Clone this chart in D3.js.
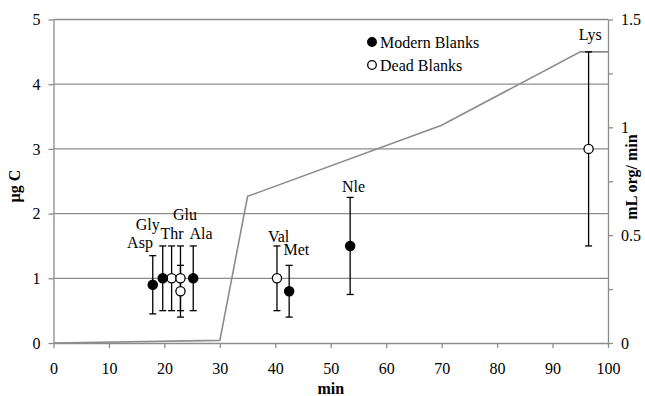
<!DOCTYPE html>
<html lang="en-US">
<head>
<meta charset="UTF-8">
<title>Blanks vs gradient</title>
<script src="https://d3js.org/d3.v7.min.js"></script>
<style>
  body { margin: 0; background: #fff; }
  text { font-family: "Liberation Serif", "Times New Roman", serif; fill: #000; }
  .grid line { stroke: #8c8c8c; stroke-width: 1.3px; }
  .axis path, .axis line { stroke: #8c8c8c; stroke-width: 1.3px; }
  .axis text { font-size: 16px; }
  .flow { fill: none; stroke: #8c8c8c; stroke-width: 1.6px; }
  .err { stroke: #000; stroke-width: 1.3px; }
  .title { font-size: 16px; font-weight: bold; }
  .lbl { font-size: 16px; }
</style>
</head>
<body>
<script>

// amino acid blanks (µg C) with error range
var modernNames = ["Asp", "Gly", "Ala", "Met", "Nle"];
var modernMin   = [17.9, 19.7, 25.2, 42.5, 53.5];
var modernVal   = [0.9, 1.0, 1.0, 0.8, 1.5];
var modernLo    = [0.45, 0.5, 0.5, 0.4, 0.75];
var modernHi    = [1.35, 1.5, 1.5, 1.2, 2.25];

var deadNames = ["Thr", "Glu", "Glu", "Val", "Lys"];
var deadMin   = [21.3, 22.9, 22.9, 40.3, 96.5];
var deadVal   = [1.0, 1.0, 0.8, 1.0, 3.0];
var deadLo    = [0.5, 0.5, 0.4, 0.5, 1.5];
var deadHi    = [1.5, 1.5, 1.2, 1.5, 4.5];

// organic flow rate (right axis)
var flowMin  = [0, 30, 35, 70, 95, 100];
var flowRate = [0, 0.012, 0.68, 1.01, 1.35, 1.35];

// peak labels, placed in data units (min, µg C)
var labelText = ["Asp", "Gly", "Thr", "Glu", "Ala", "Val", "Met", "Nle", "Lys"];
var labelMin  = [15.6, 17.0, 21.4, 23.7, 26.6, 40.6, 43.8, 54.1, 96.8];
var labelUg   = [1.47, 1.75, 1.61, 1.90, 1.61, 1.56, 1.36, 2.33, 4.68];

var xTicks = d3.range(0, 101, 10);
var yTicks = [0, 1, 2, 3, 4, 5];
var y2Ticks = [0, 0.5, 1, 1.5];
var y2Minor = [0, 0.25, 0.5, 0.75, 1, 1.25, 1.5];

var W = 645, H = 396;
var pLeft = 53.5, pRight = 608, pTop = 19.5, pBottom = 343;

var x = d3.scaleLinear().domain([0, 100]).range([pLeft, pRight]);
var y = d3.scaleLinear().domain([0, 5]).range([pBottom, pTop]);
var y2 = d3.scaleLinear().domain([0, 1.5]).range([pBottom, pTop]);

var svg = d3.select("body").append("svg")
    .attr("width", W)
    .attr("height", H);

// horizontal gridlines
svg.append("g").attr("class", "grid")
  .selectAll("line")
  .data(yTicks.slice(1))
  .enter().append("line")
    .attr("x1", pLeft).attr("x2", pRight)
    .attr("y1", function(d) { return y(d); })
    .attr("y2", function(d) { return y(d); });

// axes
svg.append("g")
    .attr("class", "axis")
    .attr("transform", "translate(0," + pBottom + ")")
    .call(d3.axisBottom(x).tickValues(xTicks).tickSize(5).tickPadding(15).tickSizeOuter(0))
    .attr("font-family", null);

svg.append("g")
    .attr("class", "axis")
    .attr("transform", "translate(" + pLeft + ",0)")
    .call(d3.axisLeft(y).tickValues(yTicks).tickSize(5).tickPadding(8).tickSizeOuter(0)
      .tickFormat(d3.format("d")))
    .attr("font-family", null);

svg.append("g")
    .attr("class", "axis")
    .attr("transform", "translate(" + pRight + ",0)")
    .call(d3.axisRight(y2).tickValues(y2Minor).tickSize(5).tickPadding(8).tickSizeOuter(0)
      .tickFormat(function(d) { return y2Ticks.indexOf(d) >= 0 ? d3.format("")(d) : ""; }))
    .attr("font-family", null);

// axis titles
svg.append("text")
    .attr("class", "title")
    .attr("x", (pLeft + pRight) / 2)
    .attr("y", 394)
    .style("text-anchor", "middle")
    .text("min");

svg.append("text")
    .attr("class", "title")
    .attr("transform", "translate(20,186) rotate(-90)")
    .style("text-anchor", "middle")
    .text("µg C");

svg.append("text")
    .attr("class", "title")
    .attr("transform", "translate(637,177) rotate(-90)")
    .style("text-anchor", "middle")
    .text("mL org/ min");

// flow line
var flowData = flowMin.map(function(m, i) { return {x: m, y: flowRate[i]}; });
svg.append("path")
    .datum(flowData)
    .attr("class", "flow")
    .attr("d", d3.line()
      .x(function(d) { return x(d.x); })
      .y(function(d) { return y2(d.y); }));

function pts(names, mins, vals, lo, hi, filled) {
  return names.map(function(n, i) {
    return {name: n, x: mins[i], y: vals[i], lo: lo[i], hi: hi[i], filled: filled};
  });
}
var points = pts(deadNames, deadMin, deadVal, deadLo, deadHi, false)
  .concat(pts(modernNames, modernMin, modernVal, modernLo, modernHi, true));

var cap = 3.5;
var eb = svg.append("g");
points.forEach(function(d) {
  var px = x(d.x);
  eb.append("line").attr("class", "err")
    .attr("x1", px).attr("x2", px).attr("y1", y(d.lo)).attr("y2", y(d.hi));
  eb.append("line").attr("class", "err")
    .attr("x1", px - cap).attr("x2", px + cap).attr("y1", y(d.lo)).attr("y2", y(d.lo));
  eb.append("line").attr("class", "err")
    .attr("x1", px - cap).attr("x2", px + cap).attr("y1", y(d.hi)).attr("y2", y(d.hi));
});

svg.append("g").selectAll("circle")
  .data(points)
  .enter().append("circle")
    .attr("cx", function(d) { return x(d.x); })
    .attr("cy", function(d) { return y(d.y); })
    .attr("r", 4.6)
    .attr("fill", function(d) { return d.filled ? "#000" : "#fff"; })
    .attr("stroke", "#000")
    .attr("stroke-width", 1.3);

// peak labels
svg.append("g").selectAll("text")
  .data(labelText)
  .enter().append("text")
    .attr("class", "lbl")
    .attr("x", function(d, i) { return x(labelMin[i]); })
    .attr("y", function(d, i) { return y(labelUg[i]); })
    .style("text-anchor", "middle")
    .text(function(d) { return d; });

// legend
var legend = [{name: "Modern Blanks", filled: true}, {name: "Dead Blanks", filled: false}];
var lg = svg.append("g").attr("transform", "translate(372,42)");
legend.forEach(function(d, i) {
  lg.append("circle")
    .attr("cx", 0).attr("cy", i * 23)
    .attr("r", 4.3)
    .attr("fill", d.filled ? "#000" : "#fff")
    .attr("stroke", "#000")
    .attr("stroke-width", 1.3);
  lg.append("text")
    .attr("class", "lbl")
    .attr("x", 8).attr("y", i * 23 + 5.5)
    .text(d.name);
});

</script>
</body>
</html>
